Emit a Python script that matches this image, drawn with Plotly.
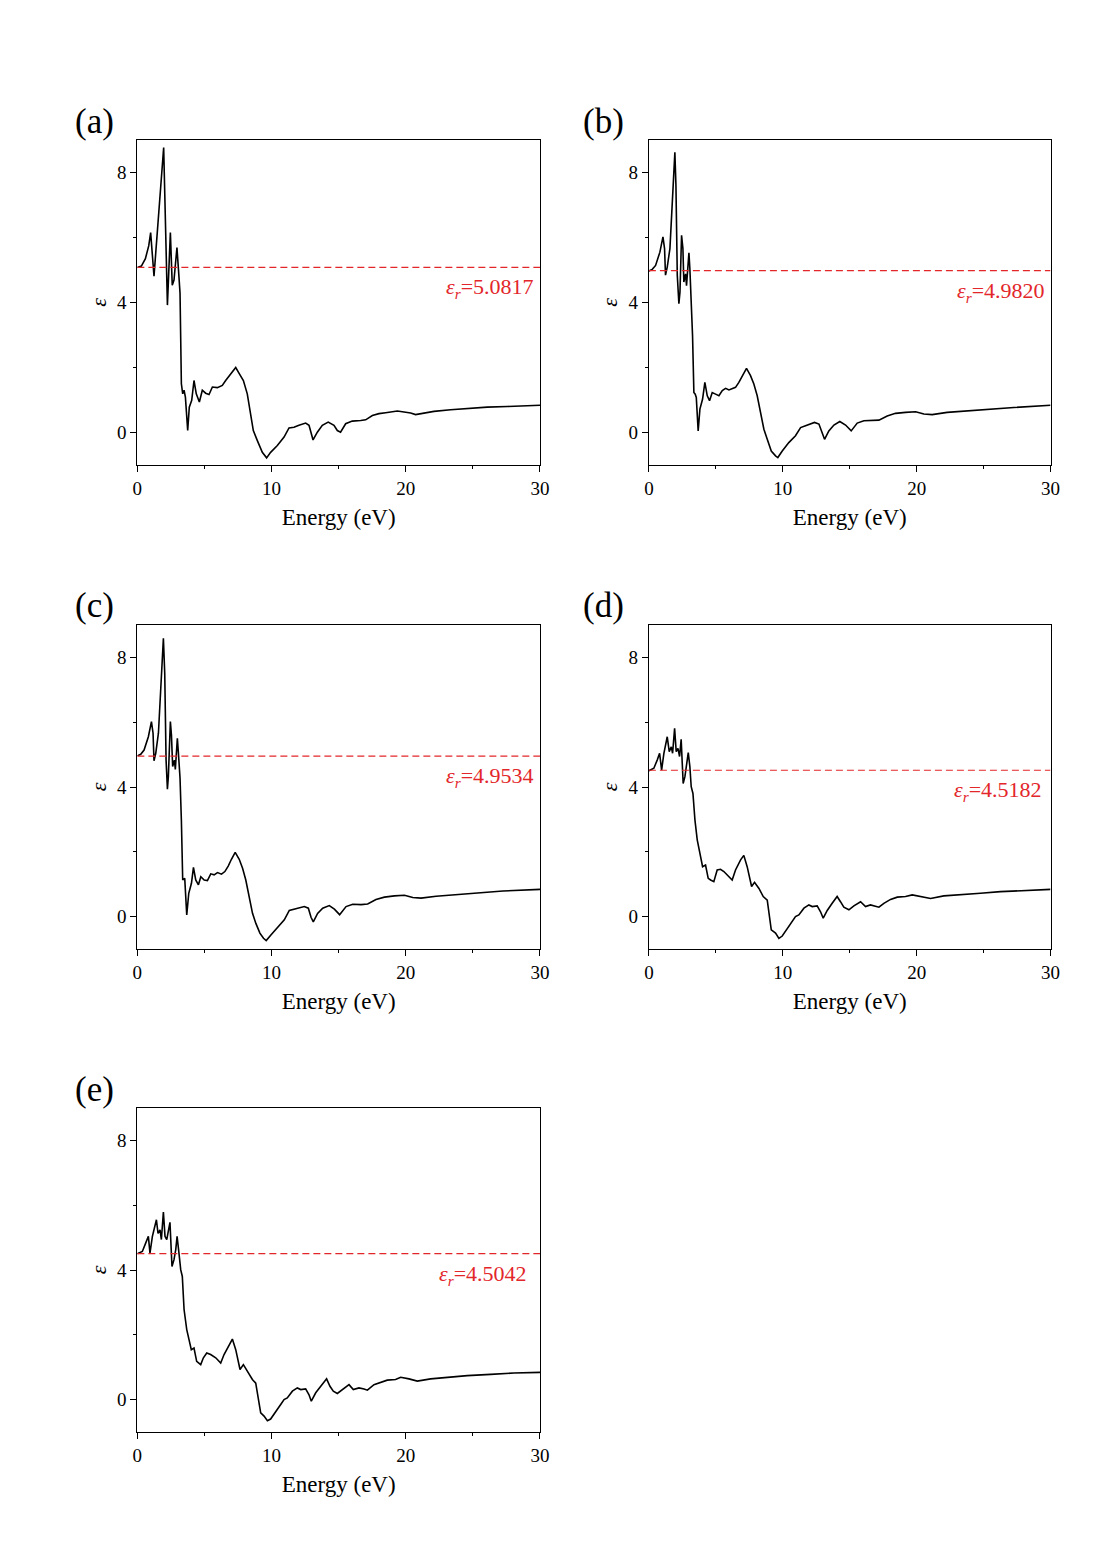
import plotly.graph_objects as go

# ---------------- data ----------------
energy_a = [0, 0.3, 0.6, 0.85, 0.99, 1.24, 1.96, 2.24, 2.46, 2.6, 2.73, 2.95, 3.1, 3.18, 3.28, 3.38, 3.48, 3.58, 3.75, 3.87, 4.05, 4.22, 4.39,
            4.62, 4.84, 5.09, 5.34, 5.59, 5.96, 6.33, 6.58, 6.95, 7.33, 7.57, 7.90, 8.19, 8.44, 8.64, 8.94, 9.31, 9.63, 9.93, 10.43,
            10.93, 11.30, 11.67, 12.04, 12.54, 12.79, 12.96, 13.09, 13.41, 13.78, 14.22, 14.65, 14.9, 15.14, 15.52, 16.01, 16.64, 17.01, 17.51, 18.0,
            18.5, 19.12, 19.37, 19.87, 20.36, 20.73, 21.23, 22.1, 23.34, 24.58, 26.07, 27.57, 29.06, 30]
eps_a = [5.08, 5.12, 5.35, 5.75, 6.15, 4.81, 8.77, 3.92, 6.15, 4.53, 4.69, 5.69, 4.79, 4.28, 1.5, 1.19, 1.30, 1.09, 0.06, 0.78, 0.99, 1.60, 1.19,
         0.94, 1.30, 1.21, 1.17, 1.40, 1.38, 1.45, 1.60, 1.79, 2.0, 1.83, 1.60, 1.19, 0.58, 0.06, -0.25, -0.61, -0.78, -0.61, -0.40,
         -0.14, 0.14, 0.16, 0.22, 0.29, 0.22, -0.04, -0.23, 0.01, 0.22, 0.32, 0.22, 0.06, 0.01, 0.27, 0.35, 0.37, 0.39, 0.52, 0.58,
         0.61, 0.63, 0.66, 0.63, 0.60, 0.55, 0.58, 0.65, 0.70, 0.74, 0.78, 0.80, 0.82, 0.84]

energy_b = [0, 0.25, 0.50, 0.82, 1.05, 1.17, 1.24, 1.37, 1.57, 1.79, 1.94, 2.02, 2.12, 2.24, 2.32, 2.44, 2.54, 2.61, 2.74, 2.81, 2.99,
            3.06, 3.16, 3.26, 3.36, 3.46, 3.54, 3.68, 3.81, 4.01, 4.18, 4.36, 4.53, 4.73, 4.98, 5.23, 5.48, 5.73, 5.98, 6.22, 6.47,
            6.72, 6.97, 7.29, 7.59, 7.84, 8.09, 8.34, 8.59, 8.84, 9.14, 9.46, 9.63, 9.96, 10.45, 10.95, 11.33, 11.70, 12.07, 12.37, 12.70,
            12.94, 13.12, 13.44, 13.82, 14.26, 14.69, 15.11, 15.56, 16.06, 16.68, 17.18, 17.80, 18.42, 19.17, 19.92, 20.54, 21.16, 22.28, 23.77, 25.27,
            27.26, 30]
eps_b = [4.97, 5.02, 5.14, 5.55, 6.02, 5.66, 4.84, 5.09, 5.66, 7.30, 8.62, 7.61, 4.84, 3.96, 4.32, 6.07, 5.66, 4.63, 4.88, 4.52, 5.53,
         5.04, 4.22, 2.98, 1.23, 1.18, 1.08, 0.05, 0.72, 1.03, 1.54, 1.13, 0.98, 1.23, 1.18, 1.13, 1.29, 1.36, 1.31, 1.36, 1.39,
         1.54, 1.75, 1.97, 1.75, 1.49, 1.13, 0.62, 0.10, -0.21, -0.57, -0.72, -0.77, -0.57, -0.31, -0.10, 0.15, 0.21, 0.26, 0.31, 0.26,
         -0.05, -0.21, 0.05, 0.23, 0.34, 0.23, 0.05, 0.29, 0.36, 0.36, 0.38, 0.51, 0.59, 0.62, 0.64, 0.57, 0.55, 0.62, 0.67, 0.72,
         0.77, 0.84]

energy_c = [0, 0.25, 0.50, 0.82, 1.05, 1.17, 1.24, 1.37, 1.57, 1.79, 1.94, 2.04, 2.14, 2.24, 2.31, 2.46, 2.54, 2.63, 2.76, 2.83, 2.98,
            3.06, 3.18, 3.28, 3.38, 3.53, 3.68, 3.83, 4.03, 4.18, 4.35, 4.55, 4.73, 4.98, 5.22, 5.47, 5.72, 5.97, 6.27, 6.52, 6.77,
            7.01, 7.29, 7.59, 7.84, 8.08, 8.33, 8.58, 8.83, 9.13, 9.40, 9.60, 9.95, 10.45, 10.95, 11.32, 11.69, 12.07, 12.44, 12.74, 12.94,
            13.11, 13.43, 13.81, 14.30, 14.68, 15.07, 15.55, 16.05, 16.67, 17.16, 17.78, 18.41, 19.15, 19.90, 20.52, 21.14, 22.26, 23.76, 25.25, 27.24,
            30]
eps_c = [4.96, 5.01, 5.14, 5.55, 6.02, 5.66, 4.81, 5.04, 5.66, 7.20, 8.59, 7.51, 4.83, 3.93, 4.32, 6.02, 5.60, 4.63, 4.83, 4.54, 5.50,
         5.04, 4.27, 2.98, 1.13, 1.18, 0.05, 0.72, 1.03, 1.52, 1.13, 0.98, 1.23, 1.13, 1.11, 1.32, 1.29, 1.36, 1.31, 1.39, 1.56,
         1.77, 1.98, 1.77, 1.49, 1.13, 0.62, 0.10, -0.21, -0.51, -0.67, -0.74, -0.57, -0.33, -0.10, 0.19, 0.23, 0.29, 0.31, 0.26, -0.02,
         -0.16, 0.10, 0.26, 0.34, 0.23, 0.06, 0.31, 0.38, 0.37, 0.39, 0.53, 0.60, 0.64, 0.66, 0.59, 0.57, 0.63, 0.68, 0.73, 0.79,
         0.84]

energy_d = [0, 0.37, 0.62, 0.80, 0.95, 1.12, 1.37, 1.52, 1.67, 1.77, 1.92, 2.04, 2.17, 2.29, 2.41, 2.56, 2.69, 2.79, 2.94, 3.06,
            3.16, 3.29, 3.44, 3.61, 3.81, 4.01, 4.23, 4.43, 4.61, 4.85, 5.10, 5.35, 5.60, 5.97, 6.22, 6.47, 6.85, 7.09, 7.34, 7.67,
            7.89, 8.22, 8.54, 8.84, 8.96, 9.14, 9.46, 9.71, 9.96, 10.33, 10.70, 10.95, 11.20, 11.58, 11.95, 12.20, 12.57, 12.82, 13.02, 13.32,
            13.69, 14.06, 14.31, 14.56, 14.94, 15.31, 15.81, 16.18, 16.55, 16.93, 17.18, 17.55, 18.05, 18.55, 19.17, 19.67, 20.29, 21.04, 22.03, 23.28,
            24.77, 26.26, 28.01, 30]
eps_d = [4.50, 4.58, 4.83, 5.04, 4.52, 5.04, 5.55, 5.09, 5.24, 5.04, 5.81, 5.09, 5.19, 4.94, 5.47, 4.11, 4.32, 4.63, 5.06, 4.63,
         4.01, 3.80, 2.98, 2.37, 1.95, 1.54, 1.59, 1.18, 1.13, 1.08, 1.44, 1.46, 1.39, 1.23, 1.13, 1.44, 1.75, 1.89, 1.54, 0.93,
         1.06, 0.87, 0.62, 0.51, 0.10, -0.41, -0.51, -0.67, -0.60, -0.36, -0.15, 0.0, 0.05, 0.26, 0.36, 0.31, 0.33, 0.15, -0.05, 0.19,
         0.41, 0.62, 0.46, 0.29, 0.21, 0.33, 0.46, 0.31, 0.36, 0.33, 0.29, 0.41, 0.53, 0.60, 0.62, 0.67, 0.62, 0.56, 0.64, 0.67,
         0.72, 0.77, 0.80, 0.84]

energy_e = [0, 0.37, 0.62, 0.82, 0.94, 1.12, 1.42, 1.54, 1.69, 1.79, 1.94, 2.06, 2.19, 2.28, 2.43, 2.58, 2.73, 2.86, 2.96, 3.10,
            3.23, 3.35, 3.48, 3.68, 3.87, 4.02, 4.22, 4.42, 4.72, 4.92, 5.17, 5.46, 5.84, 6.21, 6.46, 6.83, 7.08, 7.33, 7.65, 7.90,
            8.19, 8.57, 8.82, 8.99, 9.19, 9.44, 9.69, 9.93, 10.30, 10.68, 10.93, 11.17, 11.55, 11.92, 12.17, 12.54, 12.79, 12.96, 13.29, 13.66,
            14.10, 14.35, 14.60, 14.90, 15.27, 15.77, 16.09, 16.51, 16.89, 17.14, 17.63, 18.13, 18.62, 19.24, 19.62, 20.24, 20.86, 21.85, 23.09, 24.58,
            26.32, 28.06, 30]
eps_e = [4.50, 4.57, 4.83, 5.04, 4.52, 5.04, 5.55, 5.13, 5.24, 4.94, 5.79, 5.04, 4.94, 5.13, 5.47, 4.11, 4.32, 4.63, 5.04, 4.52,
         4.01, 3.80, 2.78, 2.16, 1.75, 1.54, 1.59, 1.18, 1.08, 1.29, 1.44, 1.39, 1.29, 1.13, 1.39, 1.70, 1.87, 1.54, 0.93, 1.08,
         0.87, 0.62, 0.51, 0.10, -0.41, -0.51, -0.65, -0.60, -0.36, -0.15, 0.0, 0.05, 0.26, 0.36, 0.31, 0.33, 0.15, -0.05, 0.21, 0.41,
         0.64, 0.41, 0.26, 0.19, 0.31, 0.46, 0.31, 0.36, 0.33, 0.29, 0.46, 0.53, 0.60, 0.62, 0.69, 0.64, 0.57, 0.64, 0.69, 0.74,
         0.78, 0.82, 0.84]

panel_letters = ["(a)", "(b)", "(c)", "(d)", "(e)"]
eps_r_values = [5.0817, 4.9820, 4.9534, 4.5182, 4.5042]
eps_r_labels = ["5.0817", "4.9820", "4.9534", "4.5182", "4.5042"]
x_ticks = [0, 10, 20, 30]
y_ticks = [0, 4, 8]
x_minor = [5, 15, 25]
y_minor = [2, 6]
x_title = "Energy (eV)"
y_title = "<i>ε</i>"

series = [(energy_a, eps_a), (energy_b, eps_b), (energy_c, eps_c), (energy_d, eps_d), (energy_e, eps_e)]

# ---------------- layout geometry ----------------
OFF = 8  # page body margin added by the browser
W, H = 1103 - 2 * OFF, 1566 - 2 * OFF - 12
FONT = "Liberation Serif"


def hx(px):
    # horizontal page-pixel correction measured on the rendered page
    return (px - 3.63) / 0.988


cols = [(136, 539), (648, 1050), (136, 539), (648, 1050), (136, 539)]
rows = [(140, 465), (140, 465), (625, 949), (625, 949), (1108, 1432)]
label_x_px = [93, 603, 93, 603, 93]
label_y_px = [122, 122, 606, 606, 1089]
ann_x = [29.7, 29.7, 29.7, 29.5, 29.2]

fig = go.Figure()
layout = dict(
    width=W, height=H, autosize=False,
    margin=dict(l=0, r=0, t=0, b=0),
    paper_bgcolor="white", plot_bgcolor="white",
    showlegend=False,
    font=dict(family=FONT, color="black"),
)
annotations = []

for i, (xs, ys) in enumerate(series):
    n = "" if i == 0 else str(i + 1)
    xa, ya = "x" + n, "y" + n
    fig.add_trace(go.Scatter(x=xs, y=ys, mode="lines", xaxis=xa, yaxis=ya,
                             line=dict(color="black", width=1.6), hoverinfo="skip"))
    fig.add_trace(go.Scatter(x=[0, 30], y=[eps_r_values[i], eps_r_values[i]], mode="lines",
                             xaxis=xa, yaxis=ya, line=dict(color="#e3262a", width=1.1, dash="7px,4px"),
                             hoverinfo="skip"))
    x0, x1 = hx(cols[i][0]) - OFF, hx(cols[i][1]) - OFF
    y0, y1 = rows[i][0] - OFF, rows[i][1] - OFF
    layout["xaxis" + n] = dict(
        domain=[x0 / W, x1 / W], anchor=ya, range=[0, 30],
        tickvals=x_ticks, ticks="outside", ticklen=6, tickwidth=1.2, tickcolor="black",
        minor=dict(tickvals=x_minor, ticks="outside", ticklen=3, tickwidth=1.2, tickcolor="black"),
        showline=True, linecolor="black", linewidth=1.3, mirror=True,
        showgrid=False, zeroline=False,
        tickfont=dict(family=FONT, size=19, color="black"),
        title=dict(text=x_title, font=dict(family=FONT, size=23, color="black"), standoff=10),
    )
    layout["yaxis" + n] = dict(
        domain=[1 - y1 / H, 1 - y0 / H], anchor=xa, range=[-1, 9],
        tickvals=y_ticks, ticks="outside", ticklen=6, tickwidth=1.2, tickcolor="black",
        minor=dict(tickvals=y_minor, ticks="outside", ticklen=3, tickwidth=1.2, tickcolor="black"),
        showline=True, linecolor="black", linewidth=1.3, mirror=True,
        showgrid=False, zeroline=False,
        tickfont=dict(family=FONT, size=19, color="black"),
        title=dict(text=y_title, font=dict(family=FONT, size=22, color="black"), standoff=4),
    )
    annotations.append(dict(
        x=ann_x[i], y=eps_r_values[i], xref=xa, yref=ya, xanchor="right", yanchor="middle",
        yshift=-21, showarrow=False,
        text="<i>ε</i><sub><i>r</i></sub>=" + eps_r_labels[i],
        font=dict(family=FONT, size=22, color="#e3262a"),
    ))
    annotations.append(dict(
        x=(hx(label_x_px[i]) - OFF) / W, y=1 - (label_y_px[i] - OFF) / H, xref="paper", yref="paper",
        xanchor="center", yanchor="middle", showarrow=False,
        text=panel_letters[i], font=dict(family=FONT, size=35, color="black"),
    ))

layout["annotations"] = annotations
fig.update_layout(**layout)
fig.write_html("out.html", config={"responsive": False})
